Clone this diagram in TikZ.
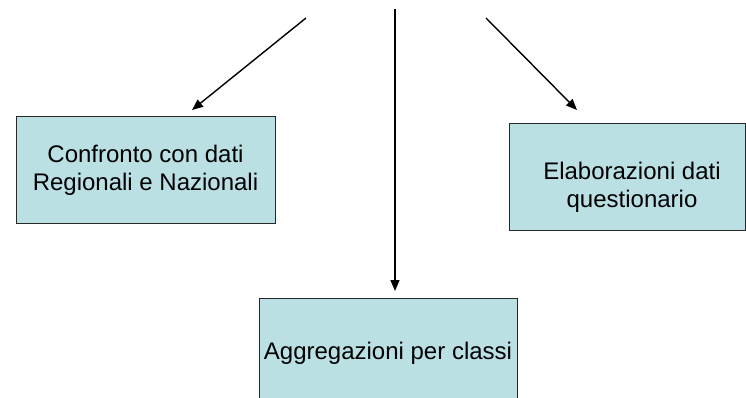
\documentclass[tikz,border=0pt]{standalone}
\usepackage{fontspec}
\setmainfont{Liberation Sans}
\usepackage{tikz}
\usetikzlibrary{arrows.meta}

\definecolor{boxfill}{RGB}{187,224,228}
\tikzset{
  databox/.style={draw={rgb,255:red,40;green,40;blue,40},line width=1pt,fill=boxfill,
    align=center,inner sep=0pt,font=\fontsize{24}{28}\selectfont},
  boxtext/.style={align=center,inner sep=0pt,font=\fontsize{24}{28}\selectfont},
  flowarrow/.style={line width=1.4pt,-{Triangle[length=11pt,width=9pt]}}
}

\begin{document}
\begin{tikzpicture}[x=1pt,y=1pt,yscale=-1,xscale=1]
\useasboundingbox (0,0) rectangle (746,398);

%Shape: Rectangle [left]
\node [databox,minimum width=259pt,minimum height=106pt] (confronto) at (145.5,170) {Confronto con dati\\Regionali e Nazionali};
%Shape: Rectangle [right]
\node [databox,minimum width=236pt,minimum height=106pt] (elaborazioni) at (627,177) {};
% Text Node
\node [boxtext] (elabtext) at (632,187) {Elaborazioni dati\\questionario};
%Shape: Rectangle [bottom]
\node [databox,minimum width=258pt,minimum height=110pt] (aggregazioni) at (388,353) {Aggregazioni per classi};

%Arrow ends
\coordinate (srcL) at (306,18);
\coordinate (tipL) at (192,110);
\coordinate (srcC) at (395,9);
\coordinate (tipC) at (395,291);
\coordinate (srcR) at (486,18);
\coordinate (tipR) at (577,110);

%Shape: Arrows
\draw [flowarrow] (srcL) -- (tipL);
\draw [flowarrow] (srcC) -- (tipC);
\draw [flowarrow] (srcR) -- (tipR);

\end{tikzpicture}
\end{document}
